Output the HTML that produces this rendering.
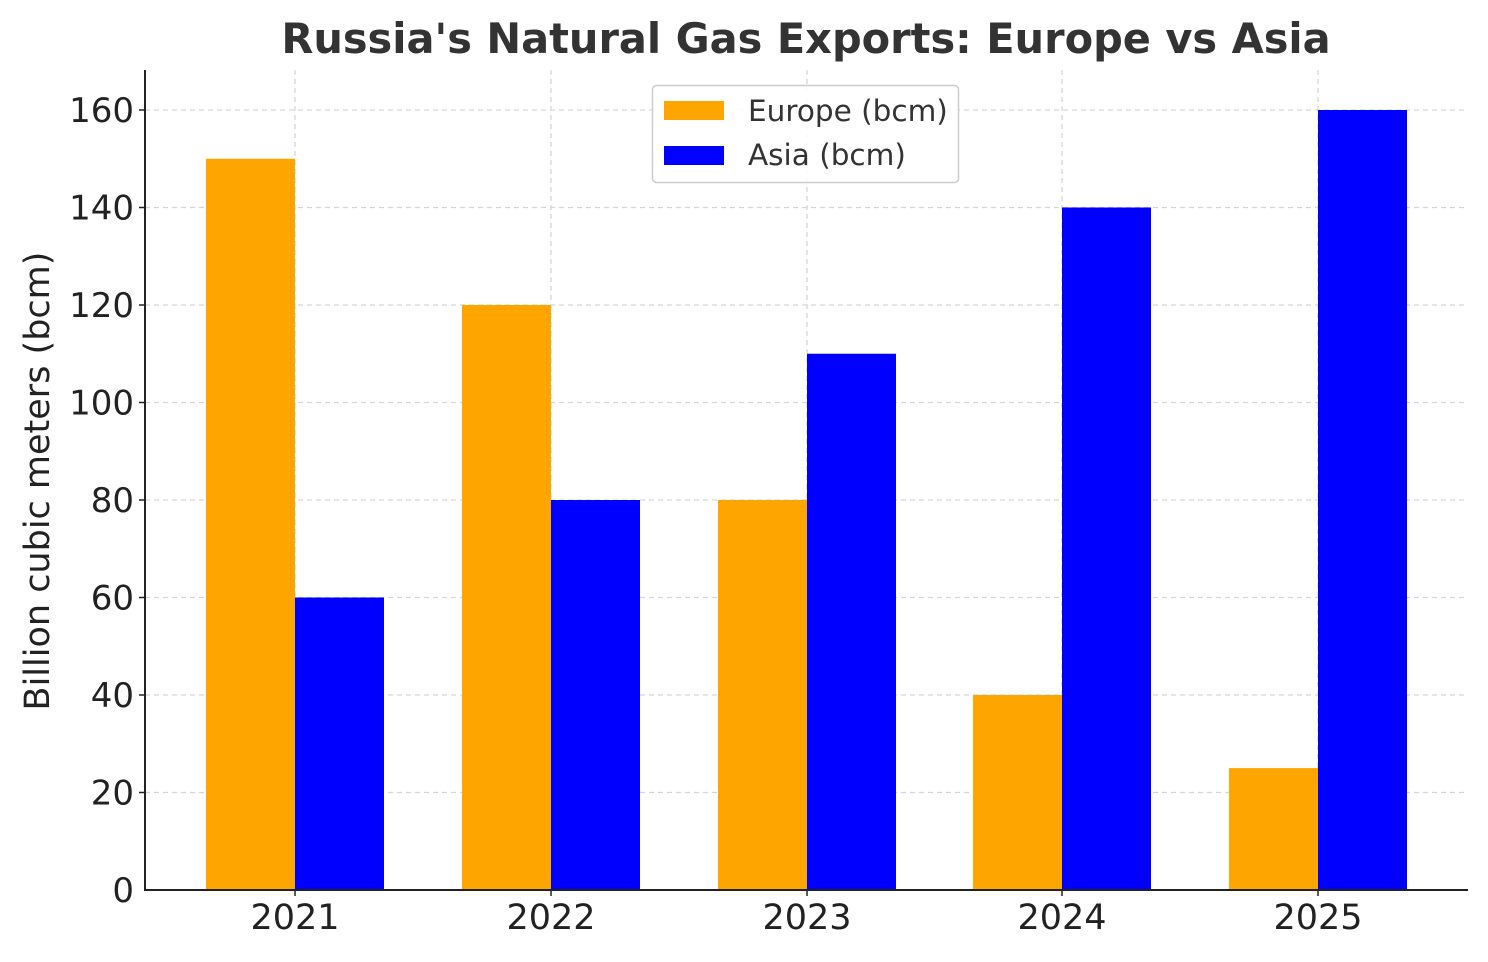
<!DOCTYPE html>
<html><head><meta charset="utf-8"><style>body{margin:0;background:#fff}</style></head><body>
<svg width="1488" height="957" xmlns="http://www.w3.org/2000/svg" font-family="DejaVu Sans, Liberation Sans, sans-serif">
<rect width="1488" height="957" fill="#fff"/>
<text x="806" y="53" text-anchor="middle" font-size="41.5" font-weight="bold" fill="#333">Russia's Natural Gas Exports: Europe vs Asia</text>
<g stroke="#d6d6d6" stroke-width="1.3" stroke-dasharray="5,4">
<line x1="145" x2="1467" y1="110" y2="110"/><line x1="145" x2="1467" y1="207.5" y2="207.5"/>
<line x1="145" x2="1467" y1="305" y2="305"/><line x1="145" x2="1467" y1="402.5" y2="402.5"/>
<line x1="145" x2="1467" y1="500" y2="500"/><line x1="145" x2="1467" y1="597.5" y2="597.5"/>
<line x1="145" x2="1467" y1="695" y2="695"/><line x1="145" x2="1467" y1="792.5" y2="792.5"/>
<line x1="295" x2="295" y1="70" y2="890"/><line x1="551" x2="551" y1="70" y2="890"/>
<line x1="807" x2="807" y1="70" y2="890"/><line x1="1062" x2="1062" y1="70" y2="890"/>
<line x1="1318" x2="1318" y1="70" y2="890"/>
</g>
<g fill="#ffa500">
<rect x="206" y="158.75" width="89" height="731.25"/>
<rect x="462" y="305" width="89" height="585"/>
<rect x="718" y="500" width="89" height="390"/>
<rect x="973" y="695" width="89" height="195"/>
<rect x="1229" y="768.1" width="89" height="121.9"/>
</g>
<g fill="#0000ff">
<rect x="295" y="597.5" width="89" height="292.5"/>
<rect x="551" y="500" width="89" height="390"/>
<rect x="807" y="353.75" width="89" height="536.25"/>
<rect x="1062" y="207.5" width="89" height="682.5"/>
<rect x="1318" y="110" width="89" height="780"/>
</g>
<line x1="145" x2="145" y1="70" y2="891" stroke="#222" stroke-width="2"/>
<line x1="144" x2="1468" y1="890" y2="890" stroke="#222" stroke-width="2"/>
<g font-size="34" fill="#222" text-anchor="end">
<text x="134" y="122">160</text><text x="134" y="219.5">140</text><text x="134" y="317">120</text>
<text x="134" y="414.5">100</text><text x="134" y="512">80</text><text x="134" y="609.5">60</text>
<text x="134" y="707">40</text><text x="134" y="804.5">20</text><text x="134" y="902">0</text>
</g>
<g stroke="#222" stroke-width="1.5">
<line x1="139" x2="145" y1="110" y2="110"/><line x1="139" x2="145" y1="207.5" y2="207.5"/><line x1="139" x2="145" y1="305" y2="305"/><line x1="139" x2="145" y1="402.5" y2="402.5"/><line x1="139" x2="145" y1="500" y2="500"/><line x1="139" x2="145" y1="597.5" y2="597.5"/><line x1="139" x2="145" y1="695" y2="695"/><line x1="139" x2="145" y1="792.5" y2="792.5"/>
<line x1="295" x2="295" y1="890" y2="896"/><line x1="551" x2="551" y1="890" y2="896"/><line x1="807" x2="807" y1="890" y2="896"/><line x1="1062" x2="1062" y1="890" y2="896"/><line x1="1318" x2="1318" y1="890" y2="896"/>
</g>
<g font-size="35" fill="#222" text-anchor="middle">
<text x="295" y="929">2021</text><text x="551" y="929">2022</text><text x="807" y="929">2023</text><text x="1062" y="929">2024</text><text x="1318" y="929">2025</text>
</g>
<text transform="translate(49,481) rotate(-90)" text-anchor="middle" font-size="35" fill="#222">Billion cubic meters (bcm)</text>
<rect x="652.5" y="85.5" width="306" height="97" rx="4" fill="#fff" fill-opacity="0.85" stroke="#ccc" stroke-width="1.5"/>
<rect x="664" y="101" width="60" height="19" fill="#ffa500"/>
<rect x="664" y="146" width="60" height="19" fill="#0000ff"/>
<text x="748" y="121" font-size="29.5" fill="#333">Europe (bcm)</text>
<text x="748" y="165" font-size="29.5" fill="#333">Asia (bcm)</text>
</svg>
</body></html>
